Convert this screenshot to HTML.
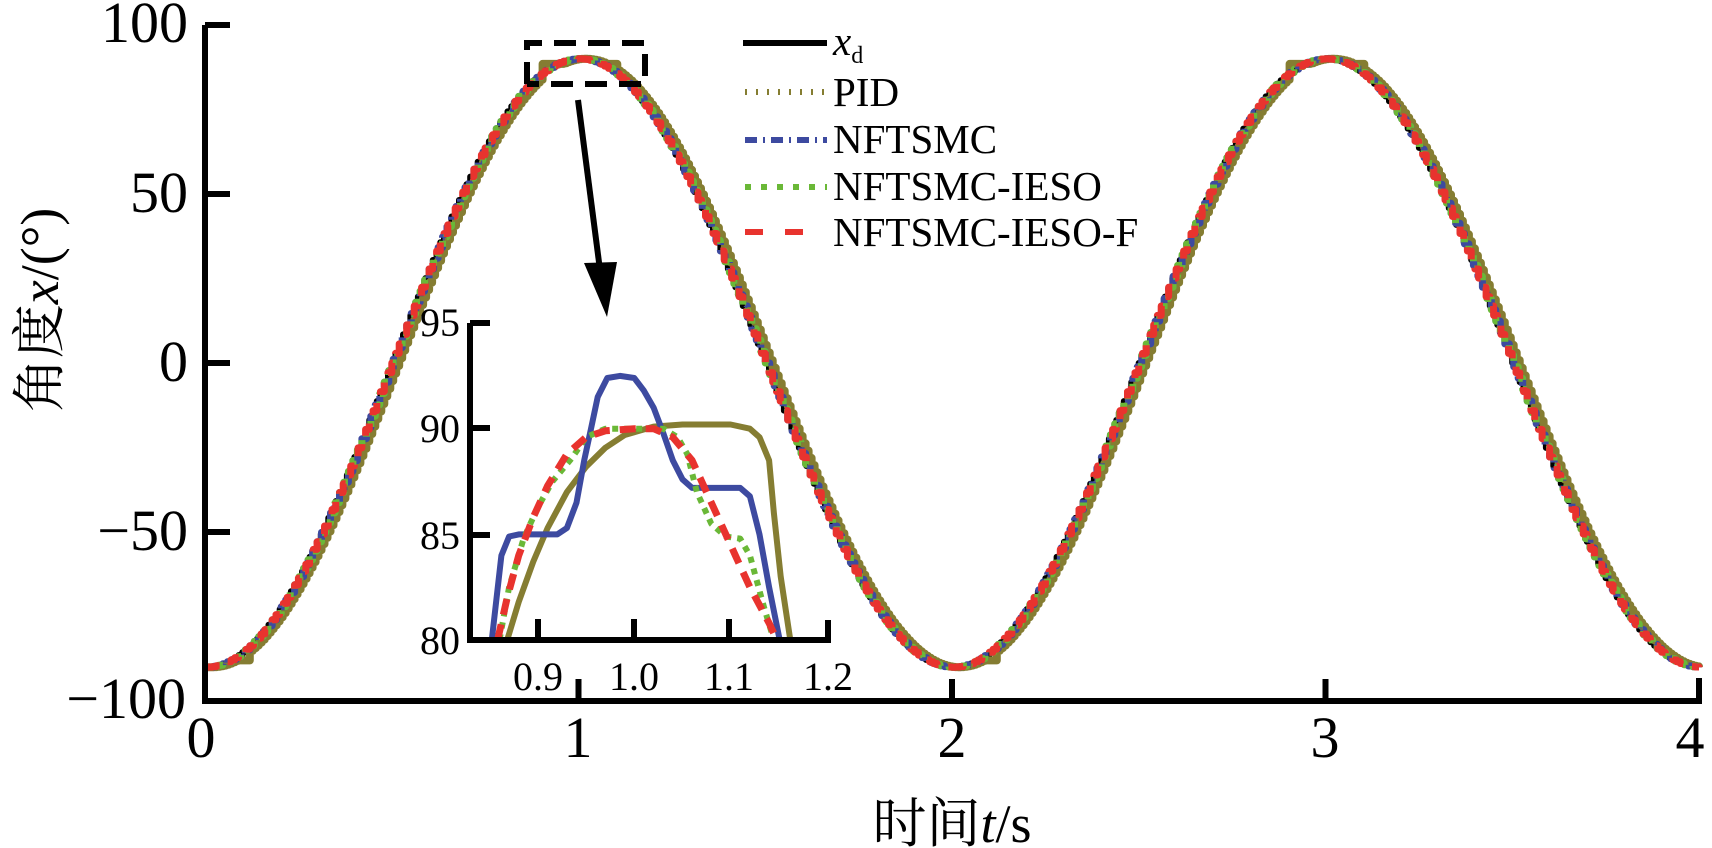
<!DOCTYPE html>
<html><head><meta charset="utf-8"><style>
html,body{margin:0;padding:0;background:#fff;}
svg{display:block;}
text{font-family:"Liberation Serif","Noto Serif CJK SC",serif;fill:#000;}
</style></head><body>
<svg id="s" width="1712" height="848" viewBox="0 0 1712 848" xmlns="http://www.w3.org/2000/svg">
<rect width="1712" height="848" fill="#fff"/>
<g id="main"></g>
<g id="inset"></g>
<path d="M205,25 V701 H1699 V678" fill="none" stroke="#000" stroke-width="6"/>
<g stroke="#000" stroke-width="6">
<line x1="205" y1="25" x2="230" y2="25"/><line x1="205" y1="194" x2="230" y2="194"/>
<line x1="205" y1="363" x2="230" y2="363"/><line x1="205" y1="532" x2="230" y2="532"/>
<line x1="578.5" y1="701" x2="578.5" y2="679"/><line x1="952" y1="701" x2="952" y2="679"/><line x1="1325.5" y1="701" x2="1325.5" y2="679"/>
</g>
<g font-size="58" text-anchor="end">
<text x="188" y="42">100</text><text x="188" y="212">50</text><text x="188" y="381">0</text><text x="188" y="550">−50</text><text x="186" y="718">−100</text>
</g>
<g font-size="58" text-anchor="middle">
<text x="201" y="757">0</text><text x="578" y="757">1</text><text x="952" y="757">2</text><text x="1325" y="757">3</text><text x="1690" y="757">4</text>
</g>
<text x="952" y="842" font-size="54" text-anchor="middle">时间<tspan font-style="italic">t</tspan>/s</text>
<text transform="translate(58,310) rotate(-90)" font-size="54" text-anchor="middle">角度<tspan font-style="italic">x</tspan>/(°)</text>
<path d="M527,84 V43 H645 V84 H527" fill="none" stroke="#000" stroke-width="6" stroke-dasharray="22,12"/>
<line x1="578" y1="100" x2="600" y2="270" stroke="#000" stroke-width="6"/>
<polygon points="584,263 617,262 607,317" fill="#000"/>
<g stroke-width="6">
<line x1="743" y1="43" x2="827" y2="43" stroke="#000"/>
<line x1="745" y1="92" x2="827" y2="92" stroke="#857d32" stroke-dasharray="2,9"/>
<line x1="745" y1="140" x2="827" y2="140" stroke="#3d4aa0" stroke-dasharray="12,6,2,6"/>
<line x1="745" y1="187" x2="827" y2="187" stroke="#6ab837" stroke-dasharray="6,10"/>
<line x1="745" y1="232" x2="805" y2="232" stroke="#e8332e" stroke-dasharray="18,22"/>
</g>
<g font-size="41">
<text x="833" y="55" font-style="italic">x<tspan font-size="24" font-style="normal" dy="8">d</tspan></text>
<text x="833" y="106">PID</text><text x="833" y="153">NFTSMC</text><text x="833" y="200">NFTSMC-IESO</text><text x="833" y="246">NFTSMC-IESO-F</text>
</g>
<path d="M470,323 V640 H828 V620" fill="none" stroke="#000" stroke-width="6"/>
<g stroke="#000" stroke-width="6">
<line x1="470" y1="323" x2="490" y2="323"/><line x1="470" y1="428" x2="490" y2="428"/><line x1="470" y1="535" x2="490" y2="535"/>
<line x1="538" y1="640" x2="538" y2="619"/><line x1="634" y1="640" x2="634" y2="619"/><line x1="729" y1="640" x2="729" y2="619"/>
</g>
<g font-size="40" text-anchor="end">
<text x="460" y="336">95</text><text x="460" y="442">90</text><text x="460" y="549">85</text><text x="460" y="654">80</text>
</g>
<g font-size="40" text-anchor="middle">
<text x="538" y="690">0.9</text><text x="634" y="690">1.0</text><text x="729" y="690">1.1</text><text x="828" y="690">1.2</text>
</g>
</svg>
<script>
var NS="http://www.w3.org/2000/svg";
function X(t){return 205+t*373.5;} function Y(v){return 363-v*3.38;}
function xd(t){return -90*Math.cos(Math.PI*t);}
function mk(g,d,col,w,dash){var p=document.createElementNS(NS,"path");p.setAttribute("d",d);p.setAttribute("fill","none");p.setAttribute("stroke",col);p.setAttribute("stroke-width",w);if(dash)p.setAttribute("stroke-dasharray",dash);p.setAttribute("stroke-linejoin","round");g.appendChild(p);}
function stair(f,dt){var d="",py=null;for(var t=0;t<=4.0001;t+=dt){var x=X(t),y=Y(f(t));if(py===null)d+="M"+x.toFixed(1)+","+y.toFixed(1);else d+="H"+x.toFixed(1)+"V"+y.toFixed(1);py=y;}return d;}
var g=document.getElementById("main");
mk(g,stair(xd,0.01),"#000",6);
mk(g,stair(function(t){var v=-90*Math.cos(Math.PI*Math.max(0,t-0.015));var m=((t%2)+2)%2;if(m<0.12)v=Math.min(v,-88);if(Math.abs(m-1)<0.1)v=Math.max(v,88.5);return v;},0.008),"#857d32",8);
mk(g,stair(xd,0.012),"#3d4aa0",7,"14,5,3,5");
mk(g,stair(xd,0.012),"#6ab837",7,"6,8");
mk(g,stair(xd,0.01),"#e8332e",7,"16,12");
function xi(t){return 538+(t-0.9)*963;} function yi(v){return 640-(v-80)*21.13;}
function ip(pts){var d="";for(var i=0;i<pts.length;i++){d+=(i?"L":"M")+xi(pts[i][0]).toFixed(1)+","+yi(pts[i][1]).toFixed(1);}return d;}
var gi=document.getElementById("inset");
mk(gi,ip([[0.868,80],[0.88,81.8],[0.895,83.7],[0.91,85.3],[0.93,87],[0.95,88.2],[0.97,89.1],[0.99,89.7],[1.02,90.1],[1.05,90.2],[1.1,90.2],[1.12,90.0],[1.13,89.6],[1.14,88.5],[1.145,86],[1.152,83],[1.162,80]]),"#857d32",6);
mk(gi,ip([[0.852,80],[0.857,82],[0.862,84],[0.870,84.9],[0.880,85],[0.92,85],[0.93,85.3],[0.94,86.5],[0.948,88.5],[0.955,90],[0.962,91.5],[0.972,92.4],[0.985,92.5],[1.0,92.4],[1.01,91.8],[1.02,91],[1.03,89.8],[1.04,88.5],[1.05,87.6],[1.06,87.2],[1.08,87.2],[1.11,87.2],[1.12,86.8],[1.13,85],[1.14,82.5],[1.151,80]]),"#3d4aa0",6);
mk(gi,ip([[0.86,80],[0.87,82.5],[0.885,84.8],[0.9,86.3],[0.915,87.5],[0.935,88.6],[0.95,89.6],[0.97,90],[1.03,90],[1.045,89.6],[1.055,88.8],[1.065,87],[1.08,85.5],[1.095,84.9],[1.11,84.8],[1.12,84],[1.135,81.5],[1.145,80]]),"#6ab837",6,"6,6");
mk(gi,ip([[0.858,80],[0.868,82],[0.88,84],[0.895,85.8],[0.91,87.3],[0.93,88.8],[0.95,89.6],[0.97,89.9],[1.0,90],[1.02,90],[1.04,89.6],[1.06,88.5],[1.075,87],[1.09,85.5],[1.105,84],[1.12,82.5],[1.14,80.8],[1.148,80]]),"#e8332e",7,"16,10");
</script>
</body></html>
